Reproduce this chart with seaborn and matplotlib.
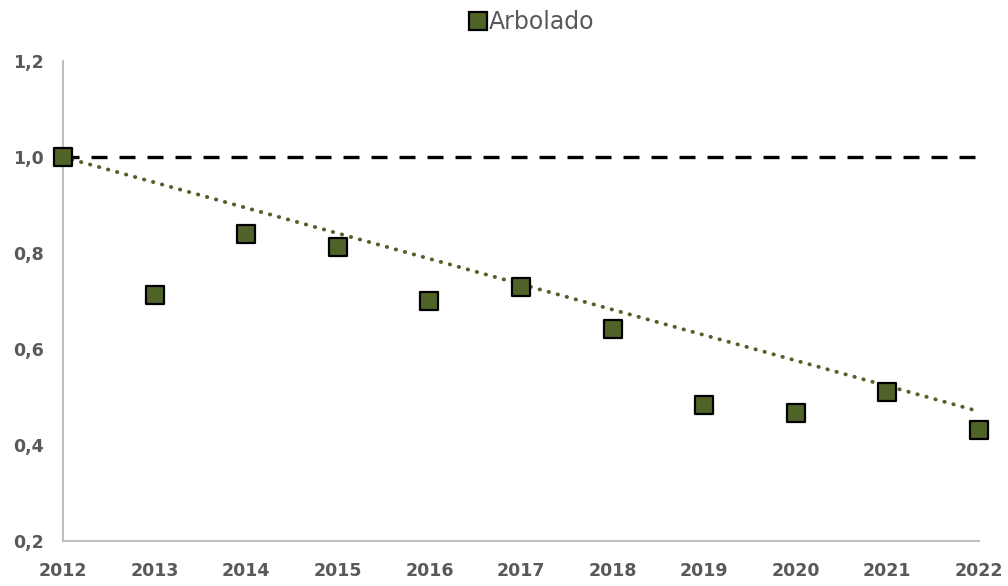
"""
Arbolado index 2012-2022 with reference line and trend.
"""

import numpy as np
import pandas as pd
import matplotlib
matplotlib.use("Agg")
import matplotlib.pyplot as plt
from matplotlib.ticker import FuncFormatter
import seaborn as sns

years = [2012, 2013, 2014, 2015, 2016, 2017, 2018, 2019, 2020, 2021, 2022]
arbolado = [1.00, 0.712, 0.840, 0.813, 0.699, 0.729, 0.642, 0.483, 0.467, 0.510, 0.431]
trend_years = [2012, 2022]
trend_values = [1.00, 0.47]
reference_level = 1.0
y_ticks = [0.2, 0.4, 0.6, 0.8, 1.0, 1.2]

OLIVE = "#4f6228"
GRID_GREY = "#bfbfbf"
TEXT_GREY = "#595959"


def main():
    sns.set_style("white")
    plt.rcParams["font.family"] = ["DejaVu Sans"]

    df = pd.DataFrame({"year": years, "value": arbolado})
    trend = pd.DataFrame({"year": trend_years, "value": trend_values})

    fig = plt.figure(figsize=(10.08, 5.86), dpi=100)
    ax = fig.add_axes([0.0625, 0.0768, 0.9087, 0.8191])

    ax.plot([years[0], years[-1]], [reference_level, reference_level],
            color="black", linewidth=2.4, dashes=(4.8, 3.6), zorder=2)

    sns.lineplot(data=trend, x="year", y="value", ax=ax, color=OLIVE,
                 linewidth=2.8, linestyle=(0, (0.1, 2.3)), zorder=3)
    for ln in ax.get_lines()[1:]:
        ln.set_dash_capstyle("round")

    sns.scatterplot(data=df, x="year", y="value", ax=ax, marker="s", s=150,
                    color=OLIVE, edgecolor="black", linewidth=1.6,
                    zorder=4, clip_on=False, label="Arbolado", legend=False)

    ax.set_xlim(years[0], years[-1])
    ax.set_ylim(y_ticks[0], y_ticks[-1])
    ax.set_xticks(years)
    ax.set_yticks(y_ticks)
    ax.yaxis.set_major_formatter(FuncFormatter(lambda v, _: f"{v:.1f}".replace(".", ",")))
    ax.set_xlabel("")
    ax.set_ylabel("")

    for side in ["top", "right"]:
        ax.spines[side].set_visible(False)
    for side in ["left", "bottom"]:
        ax.spines[side].set_color(GRID_GREY)
        ax.spines[side].set_linewidth(1.5)

    ax.tick_params(axis="x", direction="in", length=5, width=1.2, color=GRID_GREY,
                   pad=15, labelsize=12.5, labelcolor=TEXT_GREY)
    ax.tick_params(axis="y", direction="in", length=5, width=1.2, color=GRID_GREY,
                   pad=14, labelsize=12.5, labelcolor=TEXT_GREY)
    for lbl in ax.get_xticklabels() + ax.get_yticklabels():
        lbl.set_fontweight("bold")

    handle = plt.Line2D([], [], marker="s", linestyle="none", markersize=12.5,
                        markerfacecolor=OLIVE, markeredgecolor="black",
                        markeredgewidth=1.6)
    leg = fig.legend([handle], ["Arbolado"], loc="center", bbox_to_anchor=(0.527, 0.962),
                     frameon=False, fontsize=17, handlelength=0.8,
                     handletextpad=0.05, borderaxespad=0)
    for t in leg.get_texts():
        t.set_color(TEXT_GREY)

    fig.savefig("out.png", dpi=100)
    plt.close(fig)


if __name__ == "__main__":
    main()
